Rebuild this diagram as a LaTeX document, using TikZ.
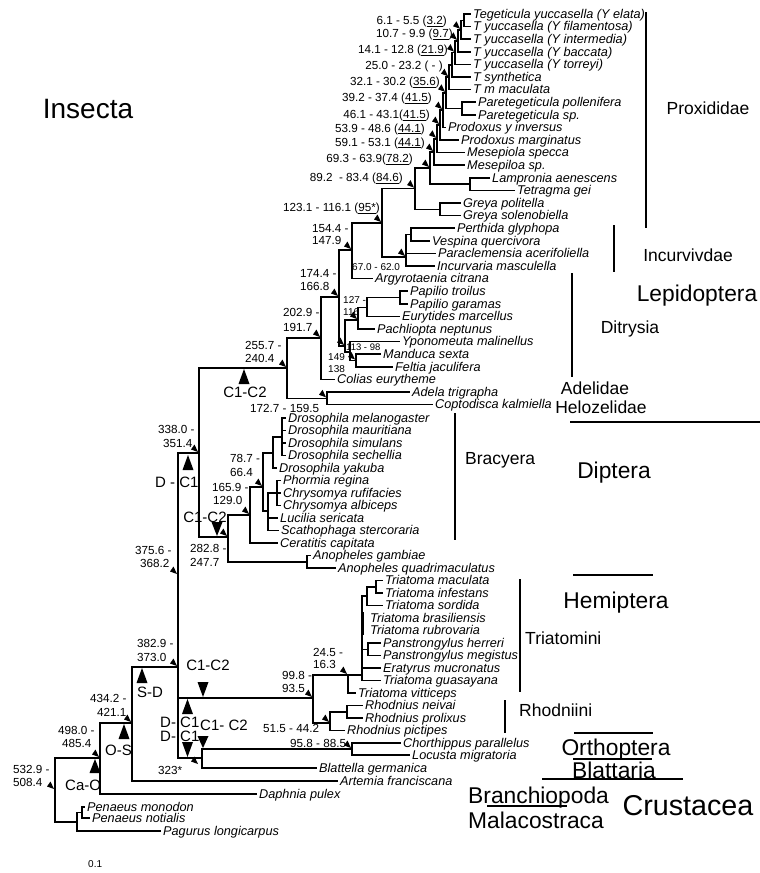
\documentclass[tikz,border=0pt]{standalone}
\usepackage{fontspec}
\setmainfont{Liberation Sans}
\newcommand\mkr[1]{\fill #1 ++(-1,-1) -- ++(-7,-2.5) -- ++(3.5,-5) -- cycle;}
\newcommand\bigtri[3]{\fill ({#1-5.5},#3) -- ({#1+5.5},#3) -- (#1,#2) -- cycle;}
\begin{document}
\begin{tikzpicture}[x=1pt,y=-1pt,
  br/.style={line width=1.5pt},
  bar/.style={line width=1.3pt},
  taxon/.style={anchor=west, inner xsep=2pt, inner ysep=0pt, text height=9pt, text depth=0.4pt, font=\fontsize{12.7}{14}\selectfont\itshape},
  num/.style={inner sep=0pt, font=\fontsize{11.7}{13}\selectfont},
  snum/.style={inner sep=0pt, font=\fontsize{10}{12}\selectfont},
  evt/.style={inner sep=0pt, font=\fontsize{15}{17}\selectfont},
  grp/.style={inner sep=0pt, font=\fontsize{17.5}{20}\selectfont},
  ord/.style={inner sep=0pt, font=\fontsize{22.8}{26}\selectfont},
]
\useasboundingbox (0,0) rectangle (760,873);
\fill[white] (0,0) rectangle (760,873);

% ---------- internal nodes ----------
\coordinate (B0) at (464,20.3);
\coordinate (Na) at (461,29.75);
\coordinate (Nb) at (458,40.8);
\coordinate (Nc) at (455,52.6);
\coordinate (Nd) at (452,64.8);
\coordinate (Ne) at (449,77.2);
\coordinate (PB2) at (462,108.5);
\coordinate (Nf) at (446,92.85);
\coordinate (Ng) at (443,110.1);
\coordinate (Nh) at (440,125);
\coordinate (Ni) at (437,138.8);
\coordinate (Nj) at (434,152);
\coordinate (N69) at (430,168);
\coordinate (LT) at (470,184.1);
\coordinate (GR) at (440,209.3);
\coordinate (N89) at (415,188.6);
\coordinate (PV) at (411,234.5);
\coordinate (INC) at (406,257);
\coordinate (N123) at (382,223);
\coordinate (N154) at (352,250);
\coordinate (N174) at (339,297);
\coordinate (N127) at (358,320);
\coordinate (PAP1) at (367,307.5);
\coordinate (PB) at (400,297.5);
\coordinate (N149) at (345,346);
\coordinate (NY) at (350,352);
\coordinate (N113) at (356,360.5);
\coordinate (N203) at (321,338);
\coordinate (ADC) at (327,398.3);
\coordinate (LEP) at (287,368);
\coordinate (LD) at (199,453);
\coordinate (DM) at (282,437);
\coordinate (DRO) at (273,453);
\coordinate (PC) at (277,493);
\coordinate (CAL) at (268,511);
\coordinate (SCH) at (263,487);
\coordinate (BR) at (250,515);
\coordinate (ANO) at (307,561.75);
\coordinate (DIP) at (228,537);
\coordinate (INS) at (178,667);
\coordinate (MI) at (376,586.75);
\coordinate (MIS) at (367,596);
\coordinate (PAN) at (368,649.25);
\coordinate (TC) at (362,675);
\coordinate (TR) at (348,675);
\coordinate (RNP) at (347,711.75);
\coordinate (RH) at (330,723);
\coordinate (HEM) at (313,698);
\coordinate (ORT) at (352,749);
\coordinate (OB) at (202,758);
\coordinate (B) at (132,723);
\coordinate (A) at (100,758);
\coordinate (PP) at (82,812.5);
\coordinate (PEN) at (77,822);
\coordinate (R) at (55,790);
\coordinate (M375) at (178,575);
\coordinate (M323) at (199,765);

% ---------- tips ----------
\node[taxon] (Teg) at (471,14) {Tegeticula yuccasella (Y\ elata)};
\node[taxon] (fil) at (471,26.6) {T yuccasella (Y filamentosa)};
\node[taxon] (int) at (471,39.2) {T yuccasella (Y intermedia)};
\node[taxon] (bac) at (471,51.8) {T yuccasella (Y baccata)};
\node[taxon] (tor) at (471,64.4) {T yuccasella (Y torreyi)};
\node[taxon] (syn) at (471,77) {T synthetica};
\node[taxon] (mmac) at (471,89.6) {T m maculata};
\node[taxon] (Ppol) at (476,102.2) {Paretegeticula pollenifera};
\node[taxon] (Psp) at (476,114.8) {Paretegeticula sp.};
\node[taxon] (ProdY) at (446,127.4) {Prodoxus y inversus};
\node[taxon] (ProdM) at (459,140) {Prodoxus marginatus};
\node[taxon] (MesSpec) at (465,152.6) {Mesepiola specca};
\node[taxon] (MesSp) at (465,165.2) {Mesepiloa sp.};
\node[taxon] (Lamp) at (490,177.8) {Lampronia aenescens};
\node[taxon] (Tetr) at (515,190.4) {Tetragma gei};
\node[taxon] (Gpol) at (461,203) {Greya politella};
\node[taxon] (Gsol) at (461,215.6) {Greya solenobiella};
\node[taxon] (Perth) at (455,228.2) {Perthida glyphopa};
\node[taxon] (Vesp) at (430,240.8) {Vespina quercivora};
\node[taxon] (Parac) at (436,253.4) {Paraclemensia acerifoliella};
\node[taxon] (Incurv) at (435,266) {Incurvaria masculella};
\node[taxon] (Argy) at (373,278.6) {Argyrotaenia citrana};
\node[taxon] (Ptro) at (408,291.2) {Papilio troilus};
\node[taxon] (Pgar) at (408,303.8) {Papilio garamas};
\node[taxon] (Eury) at (400,316.4) {Eurytides marcellus};
\node[taxon] (Pach) at (375,329) {Pachliopta neptunus};
\node[taxon] (Ypon) at (400,341.6) {Yponomeuta malinellus};
\node[taxon] (Mand) at (381,354.2) {Manduca sexta};
\node[taxon] (Felt) at (393,366.8) {Feltia jaculifera};
\node[taxon] (Colias) at (335,379.4) {Colias eurytheme};
\node[taxon] (Adela) at (410,392) {Adela trigrapha};
\node[taxon] (Copto) at (433,404.6) {Coptodisca kalmiella};
\node[taxon] (Dmel) at (286,418) {Drosophila melanogaster};
\node[taxon] (Dmau) at (286,430.5) {Drosophila mauritiana};
\node[taxon] (Dsim) at (286,443) {Drosophila simulans};
\node[taxon] (Dsec) at (286,455.5) {Drosophila sechellia};
\node[taxon] (Dyak) at (277,468) {Drosophila yakuba};
\node[taxon] (Phor) at (281,480.5) {Phormia regina};
\node[taxon] (Cruf) at (281,493) {Chrysomya rufifacies};
\node[taxon] (Calb) at (281,505.5) {Chrysomya albiceps};
\node[taxon] (Luc) at (278,518) {Lucilia sericata};
\node[taxon] (Scath) at (279,530.5) {Scathophaga stercoraria};
\node[taxon] (Cerat) at (278,543) {Ceratitis capitata};
\node[taxon] (Agam) at (311,555.5) {Anopheles gambiae};
\node[taxon] (Aqua) at (336,568) {Anopheles quadrimaculatus};
\node[taxon] (Tmac) at (383,580.5) {Triatoma maculata};
\node[taxon] (Tinf) at (383,593) {Triatoma infestans};
\node[taxon] (Tsor) at (383,605.5) {Triatoma sordida};
\node[taxon] (Tbra) at (368,618) {Triatoma brasiliensis};
\node[taxon] (Trub) at (368,630.5) {Triatoma rubrovaria};
\node[taxon] (Pher) at (381,643) {Panstrongylus herreri};
\node[taxon] (Pmeg) at (381,655.5) {Panstrongylus megistus};
\node[taxon] (Erat) at (381,668) {Eratyrus mucronatus};
\node[taxon] (Tgua) at (381,680.5) {Triatoma guasayana};
\node[taxon] (Tvit) at (356,693) {Triatoma vitticeps};
\node[taxon] (Rnei) at (363,705.5) {Rhodnius neivai};
\node[taxon] (Rpro) at (363,718) {Rhodnius prolixus};
\node[taxon] (Rpic) at (345,730.5) {Rhodnius pictipes};
\node[taxon] (Chor) at (401,743) {Chorthippus parallelus};
\node[taxon] (Locu) at (410,755) {Locusta migratoria};
\node[taxon] (Blat) at (317,768) {Blattella germanica};
\node[taxon] (Arte) at (338,781) {Artemia franciscana};
\node[taxon] (Daph) at (257,794) {Daphnia pulex};
\node[taxon] (Pmon) at (85,807) {Penaeus monodon};
\node[taxon] (Pnot) at (90,818) {Penaeus notialis};
\node[taxon] (Pag) at (161,831) {Pagurus longicarpus};

% ---------- branches ----------
\foreach \p/\c in {Na/B0,Nb/Na,Nc/Nb,Nd/Nc,Ne/Nd,Nf/Ne,Nf/PB2,Ng/Nf,Nh/Ng,Ni/Nh,Nj/Ni,N69/Nj,N69/LT,
  N89/N69,N89/GR,N123/N89,N123/INC,INC/PV,N154/N123,N174/N154,N174/N149,N149/N127,N149/NY,
  N127/PAP1,PAP1/PB,NY/N113,N203/N174,LEP/N203,LEP/ADC,LD/LEP,LD/DIP,DIP/BR,DIP/ANO,BR/SCH,
  SCH/DRO,SCH/CAL,DRO/DM,CAL/PC,INS/LD,INS/HEM,INS/OB,HEM/TR,HEM/RH,TR/TC,TC/MIS,TC/PAN,
  MIS/MI,RH/RNP,OB/ORT,B/INS,A/B,R/A,R/PEN,PEN/PP}
  {\draw[br] (\p) |- (\c);}
\foreach \p/\c in {B0/Teg,B0/fil,Na/int,Nb/bac,Nc/tor,Nd/syn,Ne/mmac,PB2/Ppol,PB2/Psp,Ng/ProdY,
  Nh/ProdM,Ni/MesSpec,Nj/MesSp,LT/Lamp,LT/Tetr,GR/Gpol,GR/Gsol,PV/Perth,PV/Vesp,INC/Parac,
  INC/Incurv,N154/Argy,PB/Ptro,PB/Pgar,PAP1/Eury,N127/Pach,NY/Ypon,N113/Mand,N113/Felt,
  N203/Colias,ADC/Adela,ADC/Copto,DM/Dmel,DM/Dmau,DM/Dsim,DM/Dsec,DRO/Dyak,PC/Phor,PC/Cruf,
  PC/Calb,CAL/Luc,CAL/Scath,BR/Cerat,ANO/Agam,ANO/Aqua,MI/Tmac,MI/Tinf,MIS/Tsor,PAN/Pher,
  PAN/Pmeg,TC/Erat,TC/Tgua,TR/Tvit,RNP/Rnei,RNP/Rpro,RH/Rpic,ORT/Chor,ORT/Locu,OB/Blat,
  B/Arte,A/Daph,PP/Pmon,PP/Pnot,PEN/Pag}
  {\draw[br] (\p) |- (\c.west);}
\draw[line width=3pt] (362,612) -- (362,635);

% ---------- node markers ----------
\foreach \n in {Na,Nb,Nc,Ne,Nf,Ng,Nh,Ni,Nj,N69,N89,N123,N154,N174,N203,N127,N149,N113,INC,
  LEP,ADC,LD,SCH,BR,DIP,INS,M375,HEM,TR,RH,B,A,ORT,R,M323}
  {\mkr{(\n)}}

% ---------- divergence times ----------
\node[num,anchor=base east] at (447,24.2) {6.1 - 5.5 (\underline{3.2})};
\node[num,anchor=base east] at (453,37.2) {10.7 - 9.9 (\underline{9.7})};
\node[num,anchor=base east] at (448,53.2) {14.1 - 12.8 (\underline{21.9})};
\node[num,anchor=base east] at (443,69.2) {25.0 - 23.2 ( - )};
\node[num,anchor=base east] at (440,85.2) {32.1 - 30.2 (\underline{35.6})};
\node[num,anchor=base east] at (432,101.2) {39.2 - 37.4 (\underline{41.5})};
\node[num,anchor=base east] at (430,118.2) {46.1 - 43.1(\underline{41.5})};
\node[num,anchor=base east] at (425,132.2) {53.9 - 48.6 (\underline{44.1})};
\node[num,anchor=base east] at (425,146.2) {59.1 - 53.1 (\underline{44.1})};
\node[num,anchor=base east] at (413,162.2) {69.3 - 63.9(\underline{78.2})};
\node[num,anchor=base east] at (403,181.2) {89.2\ \ - 83.4 (\underline{84.6})};
\node[num,anchor=base east] at (380,211.2) {123.1 - 116.1 (\underline{95*})};
\node[num,anchor=base west] at (312,232.2) {154.4 -};
\node[num,anchor=base west] at (312,244.2) {147.9};
\node[num,anchor=base west] at (300,277.2) {174.4 -};
\node[num,anchor=base west] at (300,290.2) {166.8};
\node[num,anchor=base west] at (283,316.2) {202.9 -};
\node[num,anchor=base west] at (283,331.2) {191.7};
\node[snum,anchor=base west] at (343,303.6) {127 -};
\node[snum,anchor=base west] at (343,315.6) {116};
\node[snum,anchor=base west] at (328,360.6) {149};
\node[snum,anchor=base west] at (328,372.6) {138};
\node[snum,anchor=base west,font=\fontsize{9.5}{11}\selectfont] at (346,350.4) {113 - 98};
\node[snum,anchor=base west] at (352,270.6) {67.0 - 62.0};
\node[num,anchor=base west] at (245,349.2) {255.7 -};
\node[num,anchor=base west] at (245,362.2) {240.4};
\node[num,anchor=base west] at (250,412.2) {172.7 - 159.5};
\node[num,anchor=base west] at (158,433.2) {338.0 -};
\node[num,anchor=base west] at (163,447.2) {351.4};
\node[num,anchor=base west] at (230,462.2) {78.7 -};
\node[num,anchor=base west] at (230,476.2) {66.4};
\node[num,anchor=base west] at (212,491.2) {165.9 -};
\node[num,anchor=base west] at (213,504.2) {129.0};
\node[num,anchor=base west] at (190,552.2) {282.8 -};
\node[num,anchor=base west] at (190,566.2) {247.7};
\node[num,anchor=base west] at (135,554.2) {375.6 -};
\node[num,anchor=base west] at (140,567.2) {368.2};
\node[num,anchor=base west] at (137,647.2) {382.9 -};
\node[num,anchor=base west] at (137,661.2) {373.0};
\node[num,anchor=base west] at (282,679.2) {99.8 -};
\node[num,anchor=base west] at (282,692.2) {93.5};
\node[num,anchor=base west] at (313,656.2) {24.5 -};
\node[num,anchor=base west] at (313,668.2) {16.3};
\node[num,anchor=base west] at (90,702.2) {434.2 -};
\node[num,anchor=base west] at (97,716.2) {421.1};
\node[num,anchor=base west] at (263,732.2) {51.5 - 44.2};
\node[num,anchor=base west] at (58,734.2) {498.0 -};
\node[num,anchor=base west] at (62,747.2) {485.4};
\node[num,anchor=base west] at (290,747.2) {95.8 - 88.5};
\node[num,anchor=base west] at (13,773.2) {532.9 -};
\node[num,anchor=base west] at (13,786.2) {508.4};
\node[num,anchor=base west] at (158,774.2) {323*};
\node[snum,anchor=base west] at (88,867.6) {0.1};

% ---------- event triangles and labels ----------
\bigtri{244}{369}{384}
\node[evt,anchor=base] at (245,397.3) {C1-C2};
\bigtri{188}{455}{470}
\node[evt,anchor=base west] at (155,487.3) {D - C1};
\bigtri{217}{536}{522}
\node[evt,anchor=base] at (205,522.3) {C1-C2};
\bigtri{203}{697}{682}
\node[evt,anchor=base] at (208,670.3) {C1-C2};
\bigtri{142}{668}{683}
\node[evt,anchor=base] at (150,697.3) {S-D};
\bigtri{187.5}{699}{714}
\bigtri{187.5}{757}{742}
\node[evt,anchor=base west] at (160,727.3) {D-};
\node[evt,anchor=base west] at (180,727.3) {C1};
\node[evt,anchor=base west] at (160,741.3) {D-};
\node[evt,anchor=base west] at (180,741.3) {C1};
\bigtri{203}{748}{736}
\node[evt,anchor=base west] at (200,730.3) {C1- C2};
\bigtri{124}{724}{739}
\node[evt,anchor=base west] at (105,755.3) {O-S};
\bigtri{95}{759}{773}
\node[evt,anchor=base west] at (65,790.3) {Ca-O};

% ---------- group bars and labels ----------
\node[inner sep=0pt, font=\fontsize{28}{32}\selectfont, anchor=base] at (88,118) {Insecta};
\draw[bar] (646,12) -- (646,228);
\node[grp,anchor=base] at (708,114) {Proxididae};
\draw[bar] (614,225) -- (614,272);
\node[grp,anchor=base] at (688,261) {Incurvivdae};
\draw[bar] (572,273) -- (572,377);
\node[grp,anchor=base] at (630,333) {Ditrysia};
\node[ord,anchor=base] at (697,301) {Lepidoptera};
\node[grp,anchor=base] at (595,394) {Adelidae};
\node[grp,anchor=base] at (601,413) {Helozelidae};
\draw[bar] (570,422) -- (760,422);
\draw[bar] (455,413) -- (455,540);
\node[grp,anchor=base west] at (465,464) {Bracyera};
\node[ord,anchor=base] at (614,478) {Diptera};
\draw[bar] (573,575) -- (653,575);
\node[ord,anchor=base] at (616,608) {Hemiptera};
\draw[bar] (520,579) -- (520,692);
\node[grp,anchor=base west] at (525,644) {Triatomini};
\draw[bar] (505,700) -- (505,733);
\node[grp,anchor=base west] at (519,716) {Rhodniini};
\draw[bar] (574,733) -- (653,733);
\node[ord,anchor=base] at (616,755) {Orthoptera};
\draw[bar] (573,759) -- (652,759);
\node[ord,anchor=base] at (614,778) {Blattaria};
\draw[bar] (542,779) -- (683,779);
\node[ord,anchor=base west] at (468,803) {Branchiopoda};
\draw[bar] (487,806) -- (567,806);
\node[ord,anchor=base west] at (468,828) {Malacostraca};
\node[inner sep=0pt, font=\fontsize{28.7}{32}\selectfont, anchor=base] at (688,815) {Crustacea};
\end{tikzpicture}
\end{document}
